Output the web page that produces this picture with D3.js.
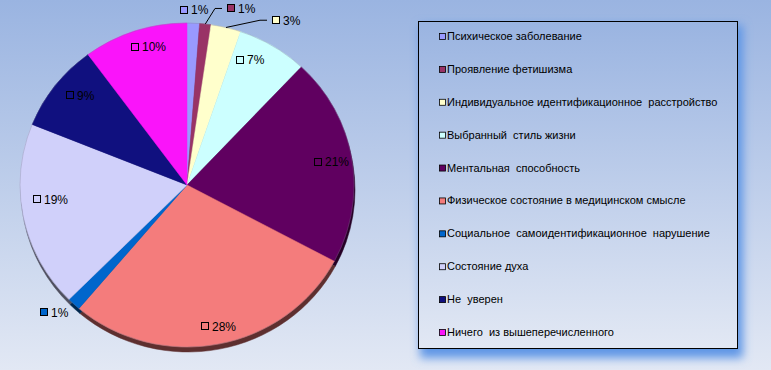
<!DOCTYPE html>
<html>
<head>
<meta charset="utf-8">
<script src="https://cdn.jsdelivr.net/npm/d3@7/dist/d3.min.js"></script>
<style>
  body { margin: 0; padding: 0; overflow: hidden; }
  svg { display: block; font-family: "Liberation Sans", Arial, sans-serif; }
</style>
</head>
<body>
<div id="chart"></div>
<script>
// chart data (shares in %, labels show the rounded value)
const categories = [
  "Психическое заболевание",
  "Проявление фетишизма",
  "Индивидуальное идентификационное  расстройство",
  "Выбранный  стиль жизни",
  "Ментальная  способность",
  "Физическое состояние в медицинском смысле",
  "Социальное  самоидентификационное  нарушение",
  "Состояние духа",
  "Не  уверен",
  "Ничего  из вышеперечисленного"
];
const values = [1.2, 1.1, 2.9, 6.8, 20.8, 28.4, 1.3, 18.6, 8.8, 10.1];
const colors = ["#9999FF", "#993366", "#FFFFCC", "#CCFFFF", "#600060",
                "#F47C7C", "#0066CC", "#D0D0FA", "#10107F", "#FA14FA"];

// label nudges (px) from the computed label spot
const labelNudge = [[-1, -1], [33, -3], [55, 5], [-11, -8], [4, -1], [4, 7], [-13, -1], [0, -13], [3, -6], [4, -8]];

let width = 771;
let height = 370;

let svg = d3.select("#chart").append("svg")
  .attr("width", width)
  .attr("height", height);

let defs = svg.append("defs");

let bg = defs.append("linearGradient")
  .attr("id", "bg").attr("x1", 0).attr("y1", 0).attr("x2", 0).attr("y2", 1);
bg.append("stop").attr("offset", "0%").attr("stop-color", "#9AB4E1");
bg.append("stop").attr("offset", "100%").attr("stop-color", "#E2E8F4");

let glow = defs.append("filter").attr("id", "glow")
  .attr("x", "-10%").attr("y", "-10%").attr("width", "120%").attr("height", "120%");
glow.append("feGaussianBlur").attr("stdDeviation", 5);

svg.append("rect")
  .attr("width", width).attr("height", height)
  .attr("fill", "url(#bg)");

// pie
let cx = 187, cy = 185, radius = 167, squash = 0.97;

let pie = d3.pie().sort(null).value(d => d);
let arcs = pie(values);

let arc = d3.arc().innerRadius(0).outerRadius(radius);

// dark edge under the pie
svg.append("g")
  .attr("transform", "translate(" + (cx + 1) + "," + (cy + 5) + ") scale(1," + squash + ")")
  .selectAll("path")
  .data(arcs)
  .enter().append("path")
  .attr("d", arc)
  .attr("fill", (d, i) => d3.color(colors[i]).darker(2.7))
  .attr("stroke", (d, i) => d3.color(colors[i]).darker(2.7))
  .attr("stroke-width", 0.5);

let pieG = svg.append("g")
  .attr("transform", "translate(" + cx + "," + cy + ") scale(1," + squash + ")");

pieG.selectAll("path")
  .data(arcs)
  .enter().append("path")
  .attr("d", arc)
  .attr("fill", (d, i) => colors[i])
  .attr("stroke", (d, i) => colors[i])
  .attr("stroke-width", 0.5);

pieG.append("ellipse")
  .attr("rx", radius).attr("ry", radius)
  .attr("fill", "none")
  .attr("stroke", "#7a7a90")
  .attr("stroke-width", 0.6)
  .attr("stroke-opacity", 0.5);

// data labels
function polar(r, a) {
  return [cx + r * Math.sin(a), cy - r * Math.cos(a) * squash];
}

let labels = svg.append("g");
arcs.forEach(function(d, i) {
  let mid = (d.startAngle + d.endAngle) / 2;
  let outside = d.value < 5;
  let p = polar(outside ? 180 : radius * 0.845, mid);
  let x = p[0] + labelNudge[i][0];
  let y = p[1] + labelNudge[i][1];
  let text = Math.round(d.value) + "%";
  let w = 10 + text.length * 7.3;
  let left = Math.round(x - w / 2);

  if (outside && (labelNudge[i][0] > 10)) {
    let e = polar(radius, mid);
    labels.append("polyline")
      .attr("points", [e, [left - 12, y], [left - 5, y]].map(q => q.join(",")).join(" "))
      .attr("fill", "none")
      .attr("stroke", "#000")
      .attr("stroke-width", 1);
  }

  labels.append("rect")
    .attr("x", left + 0.5).attr("y", Math.round(y - 4) + 0.5)
    .attr("width", 7).attr("height", 7)
    .attr("fill", colors[i])
    .attr("stroke", "#000");

  labels.append("text")
    .attr("x", left + 11)
    .attr("y", y + 4.5)
    .attr("font-size", "12px")
    .attr("fill", "#000")
    .text(text);
});

// legend
let lx = 418, ly = 21, lw = 319, lh = 327;

svg.append("rect")
  .attr("x", lx + 2).attr("y", ly + 4)
  .attr("width", lw + 4).attr("height", lh + 6)
  .attr("fill", "#5F96E6")
  .attr("filter", "url(#glow)");

svg.append("rect")
  .attr("x", lx + 0.5).attr("y", ly + 0.5)
  .attr("width", lw).attr("height", lh)
  .attr("fill", "url(#bg)")
  .attr("stroke", "#000")
  .attr("stroke-width", 1);

let legendY = d3.scalePoint()
  .domain(categories)
  .range([36, 332]);

let legend = svg.selectAll(".legend")
  .data(categories)
  .enter().append("g")
  .attr("class", "legend")
  .attr("transform", d => "translate(439," + legendY(d) + ")");

legend.append("rect")
  .attr("x", 0.5).attr("y", -2.5)
  .attr("width", 6).attr("height", 6)
  .attr("fill", (d, i) => colors[i])
  .attr("stroke", "#000")
  .attr("stroke-width", 0.8);

legend.append("text")
  .attr("x", 8)
  .attr("y", 4)
  .attr("font-size", "11px")
  .attr("fill", "#000")
  .style("white-space", "pre")
  .text(d => d);
</script>
</body>
</html>
